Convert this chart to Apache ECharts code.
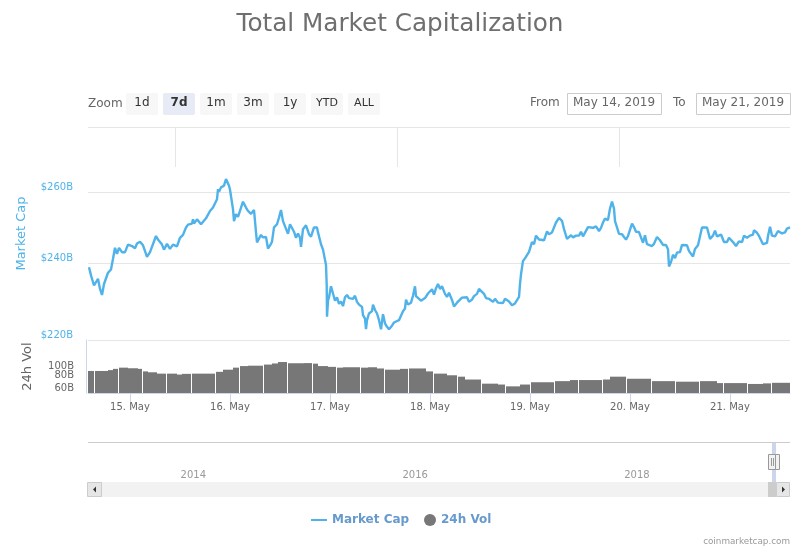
<!DOCTYPE html>
<html>
<head>
<meta charset="utf-8">
<title>Total Market Capitalization</title>
<script src="https://cdn.jsdelivr.net/npm/echarts@6/dist/echarts.min.js"></script>
<style>
  html, body { margin: 0; padding: 0; background: #fff; }
  #chart { width: 800px; height: 550px; }
</style>
</head>
<body>
<div id="chart"></div>
<script>
// [day of May 2019, market cap in $B]
const marketCap = [
  [14.59,238.9],[14.61,236.7],[14.62,235.8],[14.64,234],[14.66,233.5],[14.68,235.8],[14.70,233.1],[14.72,231.5],[14.74,234.4],[14.76,234.5],
  [14.78,237.4],[14.81,238.3],[14.83,241.2],[14.85,244.2],[14.87,242.5],[14.89,244.2],[14.92,243],[14.95,243],[14.98,245.1],[15.00,244.7],
  [15.02,244.7],[15.05,244.1],[15.07,245.4],[15.10,245.9],[15.13,244.9],[15.17,241.7],[15.20,243],[15.22,243],[15.26,247.5],[15.28,246.5],
  [15.30,246.7],[15.32,245.1],[15.34,243.7],[15.37,245.3],[15.40,243.9],[15.43,245.1],[15.47,244.6],[15.50,247],[15.53,247.8],[15.56,249.9],
  [15.58,250.7],[15.62,251],[15.63,252.2],[15.64,251],[15.67,252.2],[15.71,250.8],[15.73,250.6],[15.76,252.5],[15.78,252.7],[15.80,254.6],
  [15.83,255.6],[15.85,255.3],[15.87,258],[15.88,261],[15.89,260.2],[15.91,261.5],[15.94,262],[15.96,264],[15.99,262],[16.00,260.8],
  [16.03,255.1],[16.04,251.7],[16.06,253.7],[16.08,252.9],[16.10,253.2],[16.13,257.3],[16.16,255.6],[16.18,254.6],[16.21,253.8],[16.24,254.9],
  [16.26,248.5],[16.27,245.7],[16.29,246.2],[16.31,247.8],[16.33,247.1],[16.36,247.2],[16.38,244],[16.41,245.3],[16.42,245.9],[16.44,249.9],
  [16.47,250.8],[16.49,252.7],[16.51,254.9],[16.53,251.7],[16.55,251.2],[16.58,248.1],[16.60,250.8],[16.62,250.8],[16.64,248.7],[16.66,247],
  [16.68,248.2],[16.70,247],[16.71,244.5],[16.73,249.4],[16.76,250.5],[16.78,250.5],[16.79,248],[16.81,247.3],[16.83,247.5],[16.84,249.9],
  [16.87,249.9],[16.88,248.5],[16.91,245.2],[16.93,243.7],[16.95,243.3],[16.96,239.5],[16.967,234.3],[16.97,225.9],[16.98,230],[16.99,230.9],
  [17.01,233.8],[17.03,231.9],[17.05,230],[17.07,230.9],[17.09,229.2],[17.11,229.8],[17.13,228.6],[17.15,230.9],[17.17,231.5],[17.19,230.7],
  [17.21,231],[17.23,230.5],[17.25,231.3],[17.27,229.7],[17.29,229],[17.32,228.4],[17.33,226.3],[17.35,225.4],[17.36,222.7],[17.37,225],
  [17.39,226.7],[17.42,227.3],[17.43,229],[17.45,227.6],[17.47,226.7],[17.49,225],[17.51,222.7],[17.53,226.5],[17.55,224.2],[17.57,223.3],
  [17.59,222.7],[17.62,223.6],[17.64,224.4],[17.66,223.9],[17.69,225],[17.71,225],[17.73,227.3],[17.75,228],[17.76,230.3],[17.78,229],
  [17.81,229.5],[17.83,231.3],[17.85,233.8],[17.86,231.2],[17.88,231],[17.91,230],[17.93,229.9],[17.95,230.7],[17.98,231.9],[18.00,232.1],
  [18.02,233],[18.04,231.6],[18.06,233.3],[18.08,234.4],[18.10,233.1],[18.12,233.8],[18.15,231.8],[18.17,231],[18.19,232.1],[18.21,232],
  [18.22,230.2],[18.24,228.5],[18.27,229.5],[18.29,229.3],[18.32,230.8],[18.34,230.3],[18.37,230.9],[18.39,229.7],[18.42,230.3],[18.44,231.2],
  [18.47,231.8],[18.49,233.1],[18.51,232.6],[18.54,231.8],[18.56,230.7],[18.59,230.5],[18.61,230.3],[18.63,229.7],[18.65,230.5],[18.68,229.5],
  [18.70,229.2],[18.73,229.4],[18.75,230.5],[18.77,230],[18.79,229.8],[18.82,228.8],[18.85,229.3],[18.87,229.5],[18.89,231],[18.90,234.4],
  [18.91,237],[18.93,240.6],[18.95,241.3],[18.97,241],[18.99,243.1],[19.02,245.8],[19.04,245.2],[19.06,247.6],[19.09,246.5],[19.11,246.7],
  [19.14,246.3],[19.17,248.8],[19.19,248],[19.22,248.5],[19.24,249],[19.26,251.3],[19.29,252.6],[19.32,251.8],[19.34,249.4],[19.37,246.7],
  [19.39,247],[19.41,247.7],[19.43,247.1],[19.46,247.6],[19.49,247.6],[19.51,248.7],[19.53,247.4],[19.55,247.8],[19.58,250],[19.60,249.8],
  [19.63,249.8],[19.66,250.2],[19.69,248.9],[19.71,249.8],[19.73,251.3],[19.75,252.4],[19.78,252],[19.80,255.3],[19.82,257.3],[19.84,255.3],
  [19.85,251.7],[19.87,249.9],[19.89,248.1],[19.92,248],[19.94,247.2],[19.96,246.5],[19.98,247.5],[20.02,251],[20.04,250],[20.06,248.7],
  [20.09,248.6],[20.11,248.1],[20.13,245.6],[20.15,247.7],[20.17,245.2],[20.19,245.2],[20.22,244.7],[20.24,245.3],[20.27,247.2],[20.30,246.3],
  [20.33,245],[20.36,245],[20.38,243.8],[20.39,239.1],[20.41,240.3],[20.43,242.3],[20.45,241.4],[20.47,242.9],[20.50,243],[20.52,245],
  [20.54,244.7],[20.57,244.9],[20.59,243.3],[20.61,243],[20.63,241.8],[20.65,243.9],[20.68,244.9],[20.70,245.3],[20.72,249.9],[20.74,250.1],
  [20.77,249.9],[20.80,246.7],[20.83,247.6],[20.85,249],[20.87,247.4],[20.91,247.9],[20.94,245.8],[20.97,245.8],[20.99,247],[21.01,246.9],
  [21.03,245.8],[21.06,244.7],[21.09,246],[21.12,245.8],[21.14,247.6],[21.17,247],[21.20,247.6],[21.23,247.9],[21.24,249.1],[21.27,248.4],
  [21.29,247.5],[21.31,247.7],[21.33,245.2],[21.37,245.6],[21.38,247.5],[21.40,250.1],[21.42,247.6],[21.45,247.4],[21.48,248.9],[21.52,248.2],
  [21.55,248.5],[21.57,249.6],[21.60,249.9]
];
// [from day, to day, 24h volume in $B]
const volume = [
  [14.58,14.64,100],[14.65,14.78,100],[14.78,14.83,102],[14.83,14.88,105],[14.89,14.98,108],[14.98,15.08,106.5],[15.08,15.12,105],
  [15.13,15.18,99],[15.18,15.27,97],[15.27,15.36,94],[15.37,15.47,94],[15.47,15.52,92],[15.52,15.61,93.5],[15.62,15.85,94],
  [15.86,15.93,98],[15.93,16.03,103],[16.03,16.09,108],[16.10,16.18,112],[16.18,16.33,113],[16.34,16.42,116],[16.42,16.48,119],
  [16.48,16.57,123],[16.58,16.74,119.6],[16.74,16.82,120],[16.83,16.88,118.5],[16.88,16.98,112],[16.98,17.06,110],[17.07,17.13,108],
  [17.13,17.30,109],[17.31,17.38,108],[17.38,17.47,109],[17.47,17.54,106],[17.55,17.70,103],[17.70,17.78,105],[17.79,17.96,106],
  [17.96,18.03,99],[18.04,18.17,94],[18.17,18.27,90.5],[18.28,18.35,87.6],[18.35,18.51,82],[18.52,18.68,74.5],[18.68,18.75,73],
  [18.76,18.90,70],[18.90,19.00,73],[19.01,19.24,77],[19.25,19.40,79],[19.40,19.48,81],[19.49,19.72,81],[19.73,19.80,82],
  [19.80,19.96,87.6],[19.97,20.21,83.5],[20.22,20.45,79],[20.46,20.69,78],[20.70,20.87,79],[20.87,20.93,75.5],[20.94,21.17,75.5],
  [21.18,21.33,74],[21.33,21.41,75],[21.42,21.60,76]
];
const dayTicks = [15, 16, 17, 18, 19, 20, 21];
const capTicks = [220, 240, 260, 280];
const capLabels = [220, 240, 260];
const volTicks = [60, 80, 100];
const yearTicks = [2014, 2016, 2018];
const rangeButtons = ['1d', '7d', '1m', '3m', '1y', 'YTD', 'ALL'];

const font = '"DejaVu Sans"';
const blue = '#4fb3ea';

function makeButtons() {
  const out = [];
  rangeButtons.forEach(function (name, i) {
    const active = name === '7d';
    const size = name.length > 2 ? '11px ' : '12px ';
    out.push({
      type: 'group', left: 126 + i * 37, top: 93,
      children: [
        { type: 'rect', shape: { x: 0, y: 0, width: 32, height: 22, r: 2 }, style: { fill: active ? '#e6ebf5' : '#f7f7f7' } },
        { type: 'text', x: 16, y: 10, style: { text: name, font: (active ? 'bold ' : '') + size + font, fill: '#333', align: 'center', verticalAlign: 'middle' } }
      ]
    });
  });
  return out;
}

function dateBox(label, labelX, boxX, value) {
  return [
    { type: 'text', x: labelX, y: 103, style: { text: label, font: '12px ' + font, fill: '#666', verticalAlign: 'middle' } },
    { type: 'rect', shape: { x: boxX + 0.5, y: 93.5, width: 94, height: 21 }, style: { fill: '#fff', stroke: '#ccc', lineWidth: 1 } },
    { type: 'text', x: boxX + 6, y: 103, style: { text: value, font: '12px ' + font, fill: '#666', verticalAlign: 'middle' } }
  ];
}

const chrome = [
  { type: 'text', x: 88, y: 104, style: { text: 'Zoom', font: '12px ' + font, fill: '#666', verticalAlign: 'middle' } }
].concat(makeButtons(), dateBox('From', 530, 567, 'May 14, 2019'), dateBox('To', 673, 696, 'May 21, 2019'), [
  // navigator
  { type: 'line', shape: { x1: 88, y1: 442.5, x2: 790, y2: 442.5 }, style: { stroke: '#ccc', lineWidth: 1 } },
  { type: 'rect', shape: { x: 772, y: 443, width: 4, height: 39 }, style: { fill: '#ccd6eb' } },
  // scrollbar
  { type: 'rect', shape: { x: 88, y: 482, width: 702, height: 15 }, style: { fill: '#f2f2f2' } },
  { type: 'rect', shape: { x: 768, y: 482, width: 8, height: 15 }, style: { fill: '#ccc' } },
  { type: 'rect', shape: { x: 87.5, y: 482.5, width: 14, height: 14 }, style: { fill: '#e6e6e6', stroke: '#ccc' } },
  { type: 'polygon', shape: { points: [[96, 486.5], [96, 492.5], [93, 489.5]] }, style: { fill: '#333' } },
  { type: 'rect', shape: { x: 776.5, y: 482.5, width: 13, height: 14 }, style: { fill: '#e6e6e6', stroke: '#ccc' } },
  { type: 'polygon', shape: { points: [[782, 486.5], [782, 492.5], [785, 489.5]] }, style: { fill: '#333' } },
  // navigator handles
  { type: 'rect', shape: { x: 768.5, y: 454.5, width: 7, height: 15 }, style: { fill: '#f2f2f2', stroke: '#999' } },
  { type: 'rect', shape: { x: 775.5, y: 454.5, width: 4, height: 15 }, style: { fill: '#f2f2f2', stroke: '#999' } },
  { type: 'line', shape: { x1: 771.5, y1: 458, x2: 771.5, y2: 466 }, style: { stroke: '#999' } },
  { type: 'line', shape: { x1: 773.5, y1: 458, x2: 773.5, y2: 466 }, style: { stroke: '#999' } }
]);

const chart = echarts.init(document.getElementById('chart'), null, { renderer: 'canvas' });

const legendText = { fontSize: 12, fontWeight: 'bold', color: '#6699cc', fontFamily: font };

chart.setOption({
  animation: false,
  backgroundColor: '#fff',
  textStyle: { fontFamily: font },
  title: [
    { text: 'Total Market Capitalization', left: 'center', top: 7, textStyle: { fontSize: 24.7, fontWeight: 'normal', color: '#6f6f6f', fontFamily: font } },
    { text: 'coinmarketcap.com', right: 5, top: 532, textStyle: { fontSize: 8.8, fontWeight: 'normal', color: '#999', fontFamily: font } }
  ],
  legend: [
    {
      left: 311, top: 514, padding: 0, itemWidth: 16, itemHeight: 2, itemGap: 5,
      textStyle: legendText, data: [{ name: 'Market Cap', icon: 'rect' }]
    },
    {
      left: 424, top: 514, padding: 0, itemWidth: 12, itemHeight: 12, itemGap: 5,
      textStyle: legendText, data: [{ name: '24h Vol', icon: 'circle' }]
    }
  ],
  grid: [
    { left: 88, width: 702, top: 127, height: 213 },
    { left: 88, width: 702, top: 340, height: 53 },
    { left: 88, width: 702, top: 127, height: 40 },
    { left: 88, width: 702, top: 442, height: 40 }
  ],
  xAxis: [
    { type: 'value', gridIndex: 0, min: 14.58, max: 21.6, axisLine: { show: false }, axisTick: { show: false }, axisLabel: { show: false }, splitLine: { show: false } },
    {
      type: 'value', gridIndex: 1, min: 14.58, max: 21.6,
      axisLine: { show: true, onZero: false, lineStyle: { color: '#ccd6eb' } },
      axisTick: { show: true, length: 9, customValues: dayTicks, lineStyle: { color: '#ccd6eb' } },
      axisLabel: { customValues: dayTicks, margin: 9, fontSize: 10, color: '#666', formatter: function (v) { return v + '. May'; } },
      splitLine: { show: false }
    },
    {
      type: 'value', gridIndex: 2, min: 2013.21, max: 2019.54,
      axisLine: { show: false }, axisLabel: { show: false },
      axisTick: { show: false, customValues: yearTicks },
      splitLine: { show: true, lineStyle: { color: '#e6e6e6' } }
    },
    {
      type: 'value', gridIndex: 3, min: 2013.21, max: 2019.54,
      axisLine: { show: false }, axisTick: { show: false, customValues: yearTicks }, splitLine: { show: false },
      axisLabel: { customValues: yearTicks, inside: true, align: 'left', padding: [0, 0, 0, 5], margin: 2, fontSize: 10, color: '#999', formatter: function (v) { return String(v); } }
    }
  ],
  yAxis: [
    {
      type: 'log', gridIndex: 0, min: 220, max: 280,
      name: 'Market Cap', nameLocation: 'middle', nameRotate: 90, nameGap: 60,
      nameTextStyle: { color: blue, fontSize: 13, fontFamily: font },
      axisLine: { show: false },
      axisTick: { show: false, customValues: capTicks },
      axisLabel: { customValues: capLabels, margin: 15, fontSize: 10, color: blue, verticalAlign: 'bottom', formatter: function (v) { return '$' + v + 'B'; } },
      splitLine: { show: true, lineStyle: { color: '#e6e6e6' } }
    },
    {
      type: 'log', gridIndex: 1, min: 60, max: 205, offset: 2,
      name: '24h Vol', nameLocation: 'middle', nameRotate: 90, nameGap: 52,
      nameTextStyle: { color: '#666', fontSize: 13, fontFamily: font },
      axisLine: { show: true, lineStyle: { color: '#ccd6eb' } },
      axisTick: { show: false, customValues: volTicks },
      // the empty label at the top keeps the close 80B and 100B labels from being dropped
      axisLabel: { customValues: volTicks.concat(205), margin: 12, fontSize: 10, color: '#666', verticalAlign: 'bottom', formatter: function (v) { return volTicks.indexOf(v) < 0 ? '' : v + 'B'; } },
      splitLine: { show: false }
    },
    { type: 'value', gridIndex: 2, min: 0, max: 1, show: false },
    { type: 'value', gridIndex: 3, min: 0, max: 1, show: false }
  ],
  series: [
    {
      name: 'Market Cap', type: 'line', xAxisIndex: 0, yAxisIndex: 0, data: marketCap,
      symbol: 'none', lineStyle: { color: blue, width: 2.4 }, itemStyle: { color: blue }, z: 5
    },
    {
      name: '24h Vol', type: 'custom', xAxisIndex: 1, yAxisIndex: 1, data: volume,
      itemStyle: { color: '#777' },
      encode: { x: [0, 1], y: 2 },
      renderItem: function (params, api) {
        const a = api.coord([api.value(0), api.value(2)]);
        const b = api.coord([api.value(1), 60]);
        return { type: 'rect', shape: { x: Math.round(a[0]), y: a[1], width: Math.round(b[0]) - Math.round(a[0]), height: b[1] - a[1] }, style: { fill: '#777' } };
      }
    }
  ],
  graphic: chrome
});
</script>
</body>
</html>
